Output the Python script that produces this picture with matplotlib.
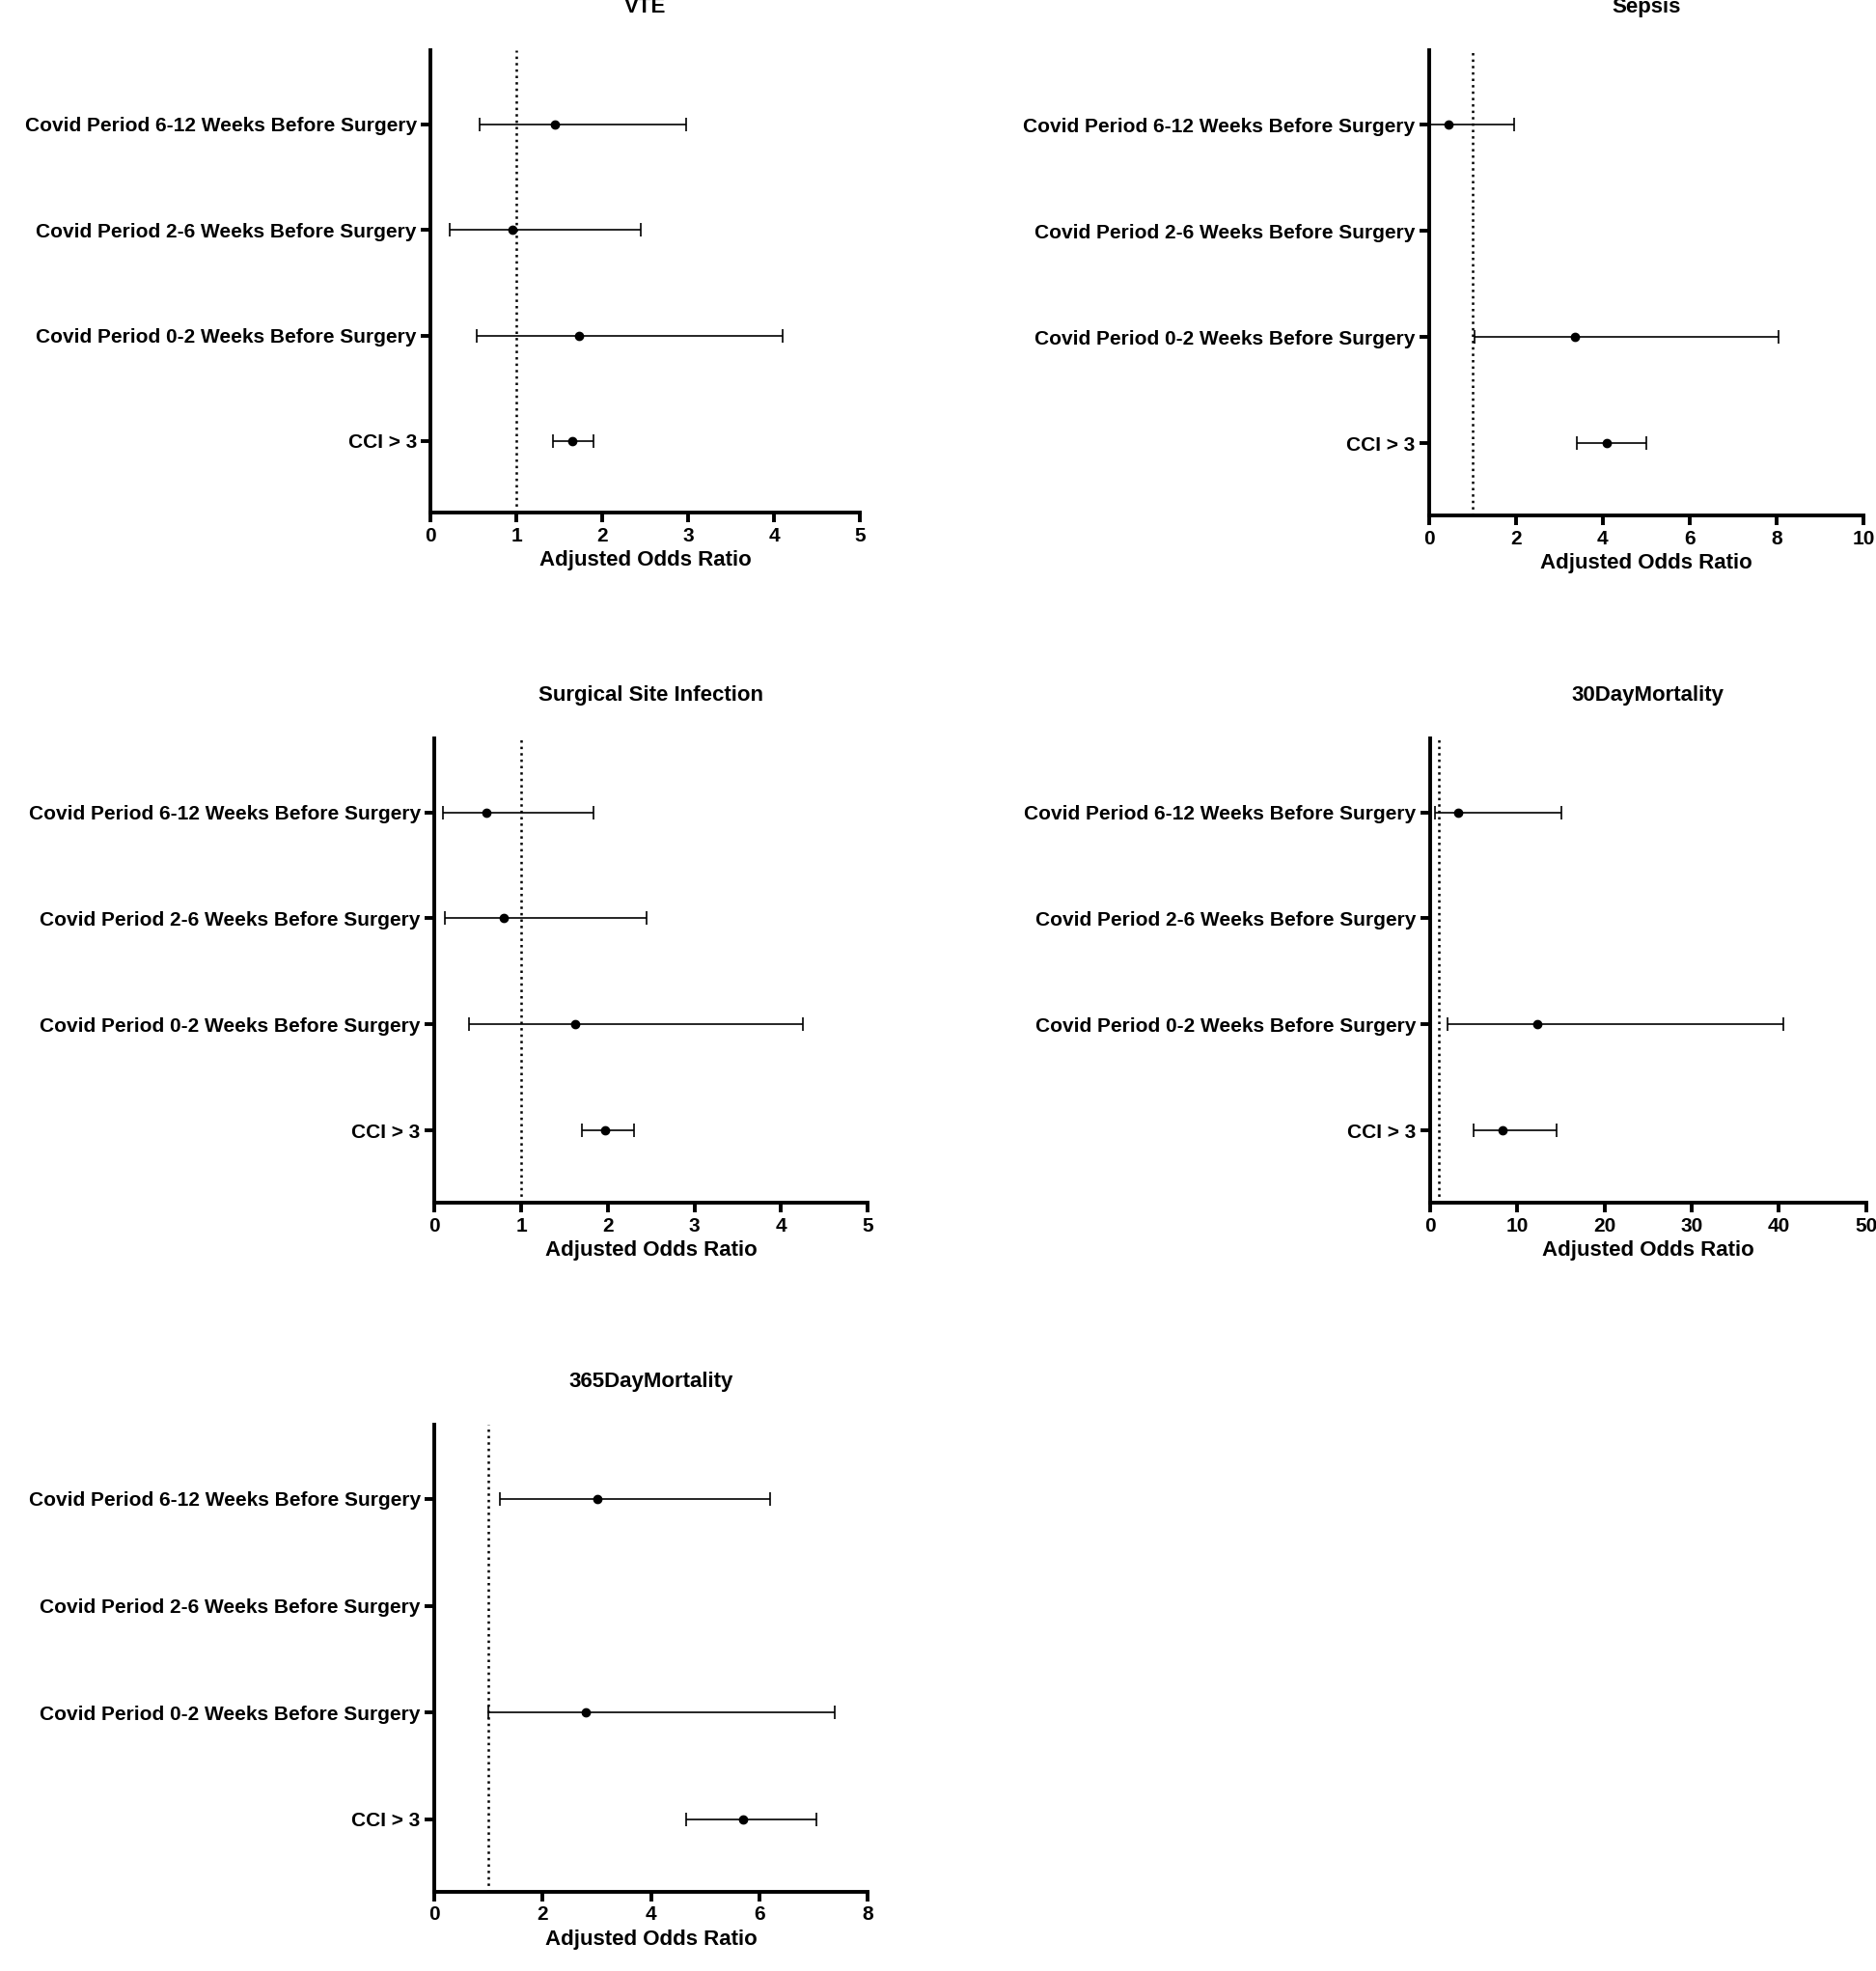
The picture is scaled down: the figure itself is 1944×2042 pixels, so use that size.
import matplotlib
matplotlib.use("Agg")
import matplotlib.pyplot as plt
import numpy as np

plt.rcParams["font.family"] = "Liberation Sans"
plt.rcParams["font.weight"] = "bold"

categories = ["CCI > 3", "Covid Period 0-2 Weeks Before Surgery",
              "Covid Period 2-6 Weeks Before Surgery", "Covid Period 6-12 Weeks Before Surgery"]
titles = ["VTE", "Sepsis", "Surgical Site Infection", "30DayMortality", "365DayMortality"]
nan = np.nan
# order matches categories (bottom to top)
or_vals = [[1.65, 1.73, 0.95, 1.45],
           [4.1, 3.35, nan, 0.45],
           [1.97, 1.62, 0.8, 0.6],
           [8.3, 12.3, nan, 3.2],
           [5.7, 2.8, nan, 3.0]]
lo_vals = [[1.42, 0.53, 0.22, 0.57],
           [3.4, 1.05, nan, 0.0],
           [1.7, 0.4, 0.12, 0.1],
           [5.0, 2.0, nan, 0.5],
           [4.65, 1.0, nan, 1.2]]
hi_vals = [[1.9, 4.1, 2.45, 2.97],
           [5.0, 8.05, nan, 1.95],
           [2.3, 4.25, 2.45, 1.83],
           [14.5, 40.5, nan, 15.0],
           [7.05, 7.4, nan, 6.2]]
xmax = [5, 10, 5, 50, 8]
xstep = [1, 2, 1, 10, 2]

fig = plt.figure(figsize=(19.44, 20.42), dpi=100)
rects = [(0.2296, 0.7398, 0.2289, 0.2347), (0.7617, 0.7385, 0.2316, 0.236),
         (0.2316, 0.3897, 0.2309, 0.2359), (0.7624, 0.3897, 0.2323, 0.2359),
         (0.2316, 0.0402, 0.2309, 0.2372)]
fs = 15
for i, r in enumerate(rects):
    ax = fig.add_axes(r)
    y = np.arange(len(categories))
    v = np.array(or_vals[i]); lo = np.array(lo_vals[i]); hi = np.array(hi_vals[i])
    m = ~np.isnan(v)
    ax.errorbar(v[m], y[m], xerr=[v[m] - lo[m], hi[m] - v[m]], fmt="o", color="black",
                ms=6, elinewidth=1.2, capsize=5, capthick=1.2)
    ax.axvline(1, color="black", linestyle=":", lw=1.8)
    ax.set_xlim(0, xmax[i])
    ax.set_ylim(-0.68, 3.7)
    ax.set_xticks(np.arange(0, xmax[i] + 0.001, xstep[i]))
    ax.set_yticks(y)
    ax.set_yticklabels(categories)
    for s in ["top", "right"]:
        ax.spines[s].set_visible(False)
    for s in ["left", "bottom"]:
        ax.spines[s].set_linewidth(2.8)
    ax.tick_params(width=2.8, length=7, labelsize=fs)
    ax.set_xlabel("Adjusted Odds Ratio", fontsize=fs + 1, fontweight="bold")
    ax.set_title(titles[i], fontsize=fs + 1, fontweight="bold", pad=28)

fig.savefig("out.png", dpi=100)
